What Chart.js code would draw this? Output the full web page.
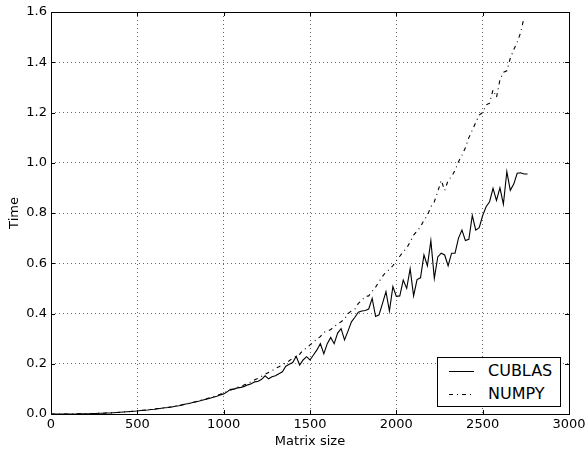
<!DOCTYPE html>
<html>
<head>
<meta charset="UTF-8" />
<title>CUBLAS vs NUMPY</title>
<script src="https://cdn.jsdelivr.net/npm/chart.js"></script>
<style>
  body { margin: 0; background: #fff; }
  #quadro { position: relative; width: 585px; height: 449px; }
  #legenda {
    position: absolute; left: 437px; top: 357px; width: 122px; height: 48px;
    border: 1px solid #000; background: #fff;
    font-family: "DejaVu Sans", sans-serif; font-size: 16px; color: #000;
  }
  .item { position: absolute; left: 0; height: 20px; line-height: 20px; }
  .item svg { position: absolute; left: 11px; top: 9px; }
  .item span { position: absolute; left: 50px; top: 0; }
</style>
</head>
<body>
<div id="quadro">
  <canvas id="grafico" width="585" height="449"></canvas>
  <div id="legenda">
    <div class="item" style="top:3px">
      <svg width="25" height="3"><line x1="0" y1="1.5" x2="25" y2="1.5" stroke="#000" stroke-width="1"/></svg>
      <span>CUBLAS</span>
    </div>
    <div class="item" style="top:26px">
      <svg width="25" height="3"><line x1="0" y1="1.5" x2="25" y2="1.5" stroke="#000" stroke-width="1" stroke-dasharray="4,4,1,4"/></svg>
      <span>NUMPY</span>
    </div>
  </div>
</div>

<script>
  // tamanho da matriz (passo de 20)
  var tamanhos = [];
  for (var i = 0; i <= 138; i++) tamanhos.push(i * 20);

  var tempoCublas = [
    0.000, 0.000, 0.000, 0.000, 0.000, 0.000, 0.000, 0.000, 0.001, 0.001,
    0.001, 0.001, 0.002, 0.002, 0.003, 0.003, 0.004, 0.004, 0.005, 0.006,
    0.007, 0.008, 0.009, 0.010, 0.011, 0.012, 0.014, 0.015, 0.016, 0.018,
    0.019, 0.021, 0.023, 0.025, 0.026, 0.028, 0.031, 0.033, 0.036, 0.040,
    0.042, 0.046, 0.049, 0.052, 0.056, 0.059, 0.063, 0.067, 0.071, 0.076,
    0.080, 0.088, 0.098, 0.099, 0.104, 0.106, 0.110, 0.116, 0.120, 0.128,
    0.130, 0.138, 0.152, 0.140, 0.148, 0.152, 0.160, 0.168, 0.190, 0.198,
    0.205, 0.230, 0.195, 0.215, 0.228, 0.215, 0.235, 0.255, 0.280, 0.240,
    0.280, 0.305, 0.280, 0.322, 0.340, 0.295, 0.330, 0.367, 0.385, 0.405,
    0.410, 0.412, 0.418, 0.460, 0.388, 0.395, 0.440, 0.487, 0.410, 0.507,
    0.468, 0.470, 0.533, 0.500, 0.578, 0.470, 0.535, 0.542, 0.633, 0.590,
    0.690, 0.540, 0.625, 0.640, 0.633, 0.590, 0.640, 0.640, 0.700, 0.732,
    0.690, 0.695, 0.790, 0.732, 0.742, 0.790, 0.825, 0.845, 0.898, 0.850,
    0.900, 0.835, 0.965, 0.890, 0.915, 0.958, 0.960, 0.955, 0.955
  ];

  var tempoNumpy = [
    0.000, 0.000, 0.000, 0.000, 0.000, 0.000, 0.000, 0.000, 0.001, 0.001,
    0.001, 0.001, 0.002, 0.002, 0.003, 0.003, 0.004, 0.004, 0.005, 0.006,
    0.007, 0.008, 0.009, 0.010, 0.011, 0.013, 0.014, 0.015, 0.017, 0.018,
    0.020, 0.022, 0.023, 0.025, 0.027, 0.029, 0.032, 0.034, 0.037, 0.039,
    0.043, 0.046, 0.049, 0.053, 0.057, 0.061, 0.065, 0.069, 0.074, 0.079,
    0.085, 0.090, 0.095, 0.101, 0.106, 0.110, 0.116, 0.122, 0.128, 0.136,
    0.142, 0.150, 0.158, 0.165, 0.172, 0.182, 0.188, 0.196, 0.203, 0.212,
    0.222, 0.230, 0.238, 0.255, 0.262, 0.275, 0.285, 0.300, 0.308, 0.325,
    0.330, 0.336, 0.348, 0.358, 0.367, 0.378, 0.400, 0.410, 0.418, 0.440,
    0.452, 0.468, 0.470, 0.488, 0.505, 0.527, 0.548, 0.565, 0.575, 0.590,
    0.610, 0.628, 0.646, 0.660, 0.685, 0.712, 0.728, 0.745, 0.772, 0.790,
    0.825, 0.845, 0.885, 0.930, 0.890, 0.930, 0.945, 0.970, 1.004, 1.030,
    1.060, 1.100, 1.130, 1.160, 1.190, 1.200, 1.230, 1.237, 1.290, 1.260,
    1.330, 1.360, 1.366, 1.416, 1.450, 1.480, 1.518, 1.579, null
  ];

  var ticksX = [0, 500, 1000, 1500, 2000, 2500, 3000];
  var ticksY = [0.0, 0.2, 0.4, 0.6, 0.8, 1.0, 1.2, 1.4, 1.6];

  function pontos(valores) {
    var lista = [];
    for (var i = 0; i < tamanhos.length; i++) {
      if (valores[i] != null) lista.push({ x: tamanhos[i], y: valores[i] });
    }
    return lista;
  }

  // moldura e marcas de escala para dentro, como no matplotlib
  var moldura = {
    id: "moldura",
    afterDatasetsDraw: function (chart) {
      var ctx = chart.ctx;
      var a = chart.chartArea;
      var sx = chart.scales.x;
      var sy = chart.scales.y;
      ctx.save();
      ctx.strokeStyle = "#000";
      ctx.lineWidth = 1;
      ctx.setLineDash([]);
      ctx.beginPath();
      ticksX.forEach(function (v) {
        var px = Math.round(sx.getPixelForValue(v)) + 0.5;
        ctx.moveTo(px, a.bottom); ctx.lineTo(px, a.bottom - 4);
        ctx.moveTo(px, a.top); ctx.lineTo(px, a.top + 4);
      });
      ticksY.forEach(function (v) {
        var py = Math.round(sy.getPixelForValue(v)) + 0.5;
        ctx.moveTo(a.left, py); ctx.lineTo(a.left + 4, py);
        ctx.moveTo(a.right, py); ctx.lineTo(a.right - 4, py);
      });
      ctx.stroke();
      ctx.strokeRect(Math.round(a.left) + 0.5, Math.round(a.top) + 0.5,
        Math.round(a.right - a.left), Math.round(a.bottom - a.top));
      ctx.restore();
    }
  };

  var fonte = { family: "'DejaVu Sans', sans-serif", size: 13 };

  new Chart(document.getElementById("grafico"), {
    type: "line",
    data: {
      datasets: [
        {
          label: "CUBLAS",
          data: pontos(tempoCublas),
          borderColor: "#000",
          borderWidth: 1.1,
          pointRadius: 0,
          tension: 0,
          fill: false,
        },
        {
          label: "NUMPY",
          data: pontos(tempoNumpy),
          borderColor: "#000",
          borderWidth: 1.1,
          borderDash: [4, 4, 1, 4],
          pointRadius: 0,
          tension: 0,
          fill: false,
        },
      ],
    },
    options: {
      responsive: false,
      animation: false,
      layout: { padding: { top: 12, right: 16, left: 0, bottom: 0 } },
      plugins: {
        legend: { display: false },
        tooltip: { enabled: false },
      },
      scales: {
        x: {
          type: "linear",
          min: 0,
          max: 3000,
          afterBuildTicks: function (s) { s.ticks = ticksX.map(function (v) { return { value: v }; }); },
          afterFit: function (s) { s.height = 35; s.paddingLeft = 0; s.paddingRight = 0; },
          ticks: {
            color: "#000", font: fonte, padding: 3, maxRotation: 0,
            callback: function (v) { return String(v); },
          },
          grid: { color: "#666", lineWidth: 1, tickLength: 0, drawTicks: false },
          border: { display: false, dash: [1, 3] },
          title: { display: true, text: "Matrix size", color: "#000", font: fonte, padding: { top: 1, bottom: 0 } },
        },
        y: {
          min: 0,
          max: 1.6,
          afterBuildTicks: function (s) { s.ticks = ticksY.map(function (v) { return { value: v }; }); },
          afterFit: function (s) { s.width = 51; s.paddingTop = 0; s.paddingBottom = 0; },
          ticks: {
            color: "#000", font: fonte, padding: 4,
            callback: function (v) { return Number(v).toFixed(1); },
          },
          grid: { color: "#666", lineWidth: 1, tickLength: 0, drawTicks: false },
          border: { display: false, dash: [1, 3] },
          title: { display: true, text: "Time", color: "#000", font: fonte, padding: { top: 7, bottom: 0 } },
        },
      },
    },
    plugins: [moldura],
  });
</script>
</body>
</html>
